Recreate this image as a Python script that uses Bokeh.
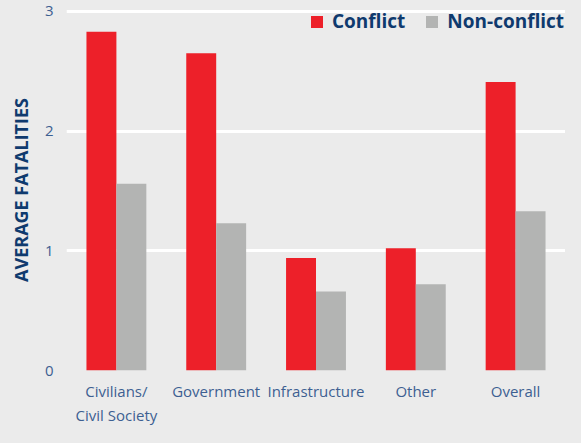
from bokeh.plotting import figure
from bokeh.models import ColumnDataSource, FactorRange, FixedTicker, Range1d, Spacer, LabelSet
from bokeh.layouts import row
from bokeh.transform import dodge
from bokeh.embed import file_html
from bokeh.resources import INLINE

categories = ["Civilians/\nCivil Society", "Government", "Infrastructure", "Other", "Overall"]
conflict = [2.83, 2.65, 0.94, 1.02, 2.41]
non_conflict = [1.56, 1.23, 0.66, 0.72, 1.33]
y_ticks = [0, 1, 2, 3]

BG = "#ebebeb"
RED = "#ed2029"
GRAY = "#b3b4b3"
NAVY = "#0f3a6e"
TICK = "#3d5f92"
FONT = "Open Sans"

src = ColumnDataSource(dict(cat=categories, conflict=conflict, non_conflict=non_conflict))

p = figure(x_range=FactorRange(factors=categories, range_padding=0),
           y_range=Range1d(0, 3.015),
           width=560, height=427, output_backend="svg", toolbar_location=None,
           min_border_left=0, min_border_right=0, min_border_top=9, min_border_bottom=43)
p.background_fill_color = BG
p.border_fill_color = BG
p.outline_line_color = None

p.vbar(x=dodge("cat", -0.15, range=p.x_range), top="conflict", width=0.3, source=src,
       color=RED, line_color=None, legend_label="Conflict")
p.vbar(x=dodge("cat", 0.15, range=p.x_range), top="non_conflict", width=0.3, source=src,
       color=GRAY, line_color=None, legend_label="Non-conflict")

p.xgrid.grid_line_color = None
p.ygrid.grid_line_color = "white"
p.ygrid.grid_line_width = 3
p.ygrid.ticker = FixedTicker(ticks=y_ticks)

p.yaxis.ticker = FixedTicker(ticks=y_ticks)
p.yaxis.axis_line_color = None
p.yaxis.major_tick_line_color = None
p.yaxis.minor_tick_line_color = None
p.yaxis.major_tick_out = 0
p.yaxis.major_tick_in = 0
p.yaxis.minor_tick_out = 0
p.yaxis.major_label_text_color = TICK
p.yaxis.major_label_text_font = FONT
p.yaxis.major_label_text_font_size = "15px"
p.yaxis.major_label_standoff = 13
p.yaxis.axis_label = "AVERAGE FATALITIES"
p.yaxis.axis_label_text_font = FONT
p.yaxis.axis_label_text_font_style = "bold"
p.yaxis.axis_label_text_font_size = "18px"
p.yaxis.axis_label_text_color = NAVY
p.yaxis.axis_label_standoff = 9

# first line of each category on the axis, second line as a label set below it
first_lines = {c: c.split("\n")[0] for c in categories if "\n" in c}
p.xaxis.major_label_overrides = first_lines
p.xaxis.axis_label = None
p.xaxis.axis_label_standoff = 0
p.xaxis.axis_line_color = None
p.xaxis.major_tick_line_color = None
p.xaxis.minor_tick_line_color = None
p.xaxis.major_tick_out = 0
p.xaxis.major_tick_in = 0
p.xaxis.minor_tick_out = 0
p.xaxis.major_label_text_color = TICK
p.xaxis.major_label_text_font = FONT
p.xaxis.major_label_text_font_size = "15px"
p.xaxis.major_label_standoff = 10

multi = [c for c in categories if "\n" in c]
second_src = ColumnDataSource(dict(cat=multi, y=[y_ticks[0]] * len(multi),
                                   txt=[c.split("\n")[1] for c in multi]))
p.add_layout(LabelSet(x="cat", y="y", text="txt", source=second_src, y_offset=-37,
                      text_align="center", text_baseline="middle",
                      text_font=FONT, text_font_size="15px", text_color=TICK))

lg = p.legend[0]
lg.location = (243, 336)
lg.orientation = "horizontal"
lg.background_fill_alpha = 0
lg.border_line_alpha = 0
lg.label_text_font = FONT
lg.label_text_font_style = "bold"
lg.label_text_font_size = "19px"
lg.label_text_color = NAVY
lg.glyph_width = 15
lg.glyph_height = 15
lg.label_standoff = 8
lg.spacing = 19
lg.margin = 0
lg.padding = 0

layout = row(Spacer(width=5, height=427, background=BG), p)

html = file_html(layout, INLINE)
html = html.replace("<body>", '<body style="background:%s">' % BG)
open("out.html", "w").write(html)
